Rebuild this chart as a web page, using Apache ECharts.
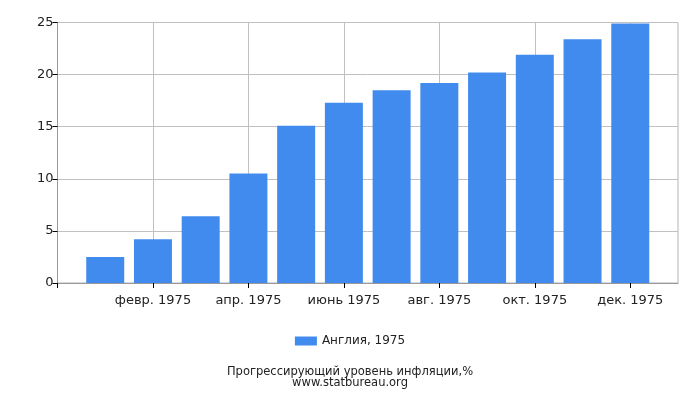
<!DOCTYPE html>
<html>
<head>
<meta charset="utf-8">
<script src="https://cdn.jsdelivr.net/npm/echarts@6/dist/echarts.min.js"></script>
<style>
  html, body { margin: 0; padding: 0; background: #fff; }
  #main { width: 700px; height: 400px; }
</style>
</head>
<body>
<div id="main"></div>
<script>
// месяцы (пустые слоты по краям, как в оригинале)
var months = ['', 'янв. 1975', 'февр. 1975', 'март 1975', 'апр. 1975', 'май 1975', 'июнь 1975',
  'июль 1975', 'авг. 1975', 'сент. 1975', 'окт. 1975', 'нояб. 1975', 'дек. 1975', ''];
var inflation = ['-', 2.5, 4.2, 6.4, 10.5, 15.1, 17.3, 18.5, 19.2, 20.2, 21.9, 23.4, 24.9, '-'];
var yTicks = [0, 5, 10, 15, 20, 25];
var seriesName = 'Англия, 1975';

var myChart = echarts.init(document.getElementById('main'));
var font = 'DejaVu Sans';
var option = {
  animation: false,
  textStyle: { fontFamily: font },
  grid: {
    left: 57.5, right: 22, top: 22.5, bottom: 117,
    show: true, borderColor: '#b4b4b4', borderWidth: 1
  },
  legend: {
    data: [seriesName],
    top: 330,
    left: 'center',
    icon: 'rect',
    itemWidth: 22, itemHeight: 9,
    textStyle: { fontFamily: font, fontSize: 12, color: '#222' }
  },
  title: {
    text: 'Прогрессирующий уровень инфляции,%\nwww.statbureau.org',
    left: 'center',
    top: 362,
    textStyle: { fontFamily: font, fontSize: 11.5, fontWeight: 'normal', color: '#222', lineHeight: 11 }
  },
  xAxis: {
    type: 'category',
    data: months,
    boundaryGap: false,
    axisLine: { lineStyle: { color: '#999' } },
    axisTick: { interval: 1, length: 5, lineStyle: { color: '#000' } },
    axisLabel: { interval: 1, color: '#222', fontSize: 13, margin: 11 },
    splitLine: { show: true, interval: 1, lineStyle: { color: '#c0c0c0' } }
  },
  yAxis: {
    type: 'value',
    min: yTicks[0],
    max: yTicks[yTicks.length - 1],
    interval: 5,
    axisLine: { show: true, lineStyle: { color: '#999' } },
    axisTick: { show: true, length: 5, lineStyle: { color: '#000' } },
    axisLabel: { color: '#222', fontSize: 13, margin: 4 },
    splitLine: { lineStyle: { color: '#c0c0c0' } }
  },
  series: [{
    name: seriesName,
    type: 'bar',
    data: inflation,
    barWidth: 38,
    itemStyle: { color: '#428bee' }
  }]
};
myChart.setOption(option, true);
</script>
</body>
</html>
